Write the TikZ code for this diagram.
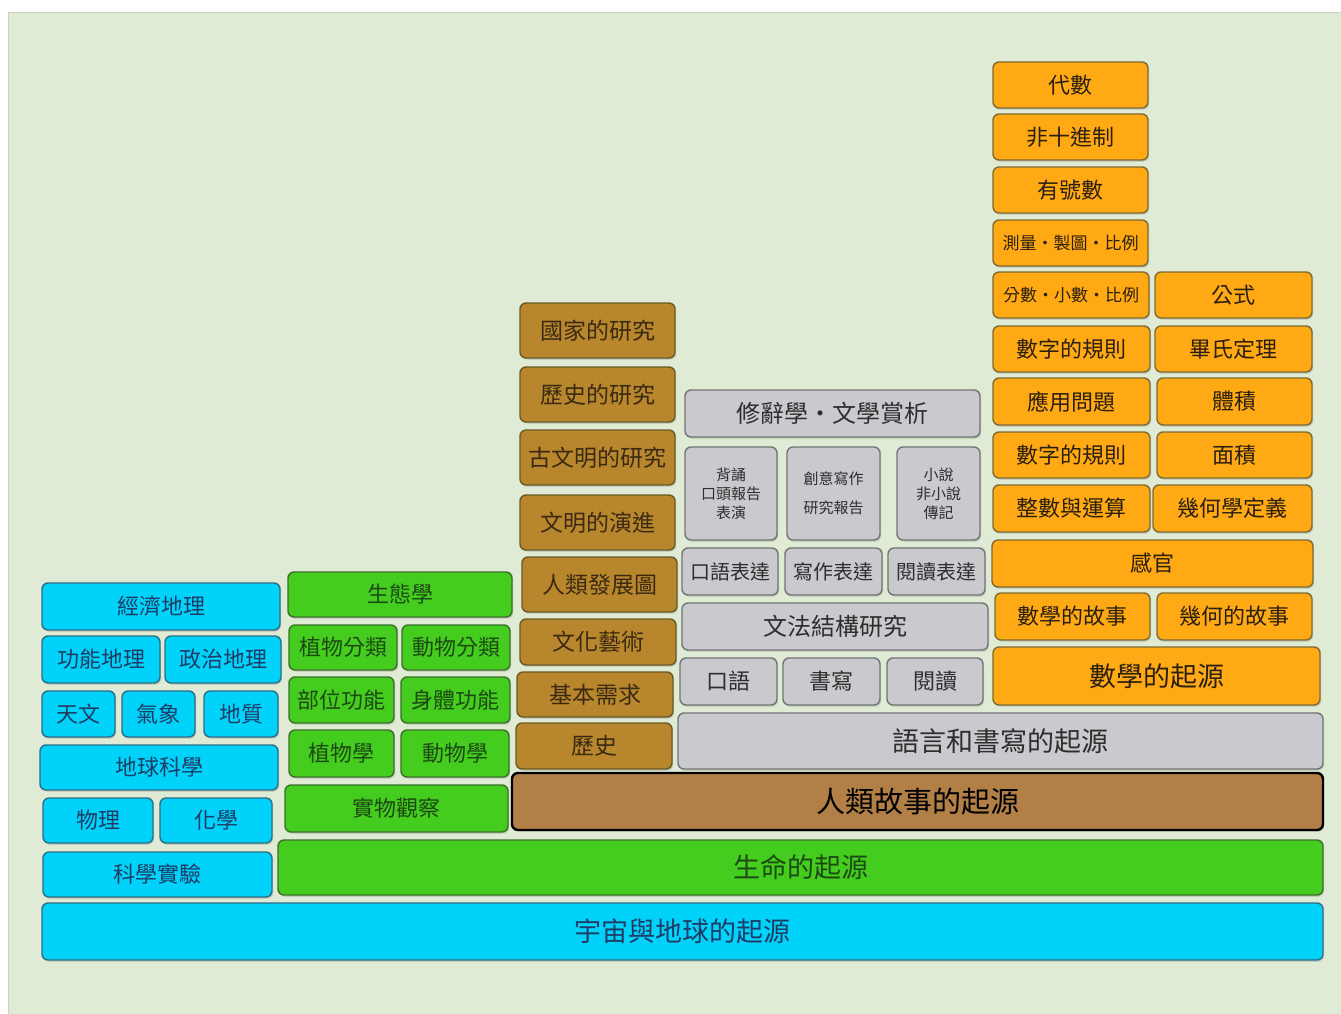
\documentclass[tikz,border=0pt]{standalone}
\usepackage{fontspec}
\setmainfont{Noto Sans CJK TC}
\usetikzlibrary{shadows}
\definecolor{fondo}{HTML}{E0EBD5}
\definecolor{cielo}{HTML}{00D2FA}
\definecolor{cieloborde}{HTML}{2D6E86}
\definecolor{cielotexto}{HTML}{1E3C64}
\definecolor{hoja}{HTML}{44CC1E}
\definecolor{hojaborde}{HTML}{3A7028}
\definecolor{hojatexto}{HTML}{1D4A14}
\definecolor{tierra}{HTML}{B8862C}
\definecolor{tierraborde}{HTML}{6A5A26}
\definecolor{tierratexto}{HTML}{3B2A12}
\definecolor{historia}{HTML}{B27F47}
\definecolor{piedra}{HTML}{C9C9CE}
\definecolor{piedraborde}{HTML}{707474}
\definecolor{piedratexto}{HTML}{2E2E2E}
\definecolor{sol}{HTML}{FFA914}
\definecolor{solborde}{HTML}{7D6A30}
\definecolor{soltexto}{HTML}{2B2010}
\tikzset{
  brick/.style={rounded corners=6pt, line width=1.4pt, inner sep=2pt, align=center,
    font=\fontsize{22}{26}\selectfont,
    drop shadow={shadow xshift=1.2pt, shadow yshift=-1.8pt, opacity=0.25}},
  skybox/.style={brick, fill=cielo, draw=cieloborde, text=cielotexto},
  leafbox/.style={brick, fill=hoja, draw=hojaborde, text=hojatexto},
  earthbox/.style={brick, fill=tierra, draw=tierraborde, text=tierratexto, font=\fontsize{23}{27}\selectfont},
  stonebox/.style={brick, fill=piedra, draw=piedraborde, text=piedratexto},
  sunbox/.style={brick, fill=sol, draw=solborde, text=soltexto},
  bigfont/.style={font=\fontsize{27}{31}\selectfont},
  smallfont/.style={font=\fontsize{15}{19}\selectfont},
}
\begin{document}
\begin{tikzpicture}[x=1pt,y=-1pt]
        \useasboundingbox (0,0) rectangle (1341,1014);
        % Fondo
        \fill[white] (0,0) rectangle (1341,1014);
        \fill[fondo] (8,13) rectangle (1341,1014);
        \draw[gray!40, line width=1pt] (8,1014)--(8,13)--(1341,13);
        % Columna azul
        \node[skybox, minimum width=238, minimum height=47] (econ) at (161,606.5) {經濟地理};
        \node[skybox, minimum width=118, minimum height=47] (func) at (101,659.5) {功能地理};
        \node[skybox, minimum width=116, minimum height=47] (poli) at (223,659.5) {政治地理};
        \node[skybox, minimum width=73, minimum height=46] (astro) at (78.5,714) {天文};
        \node[skybox, minimum width=73, minimum height=46] (weather) at (158.5,714) {氣象};
        \node[skybox, minimum width=74, minimum height=46] (geo) at (241,714) {地質};
        \node[skybox, minimum width=238, minimum height=45] (earth) at (159,767.5) {地球科學};
        \node[skybox, minimum width=110, minimum height=45] (phys) at (98,820.5) {物理};
        \node[skybox, minimum width=112, minimum height=45] (chem) at (216,820.5) {化學};
        \node[skybox, minimum width=229, minimum height=45] (exper) at (157.5,874.5) {科學實驗};
        \node[skybox, bigfont, minimum width=1281, minimum height=57] (universe) at (682.5,931.5) {宇宙與地球的起源};
        % Columna verde
        \node[leafbox, minimum width=224, minimum height=45] (eco) at (400,594.5) {生態學};
        \node[leafbox, minimum width=108, minimum height=45] (plantcls) at (343,647.5) {植物分類};
        \node[leafbox, minimum width=108, minimum height=45] (animalcls) at (456,647.5) {動物分類};
        \node[leafbox, minimum width=105, minimum height=46] (parts) at (341.5,700) {部位功能};
        \node[leafbox, minimum width=109, minimum height=46] (bodyfn) at (455.5,700) {身體功能};
        \node[leafbox, minimum width=105, minimum height=47] (botany) at (341.5,753.5) {植物學};
        \node[leafbox, minimum width=108, minimum height=47] (zoology) at (455,753.5) {動物學};
        \node[leafbox, minimum width=223, minimum height=47] (observe) at (396.5,808.5) {實物觀察};
        \node[leafbox, bigfont, minimum width=1045, minimum height=55] (life) at (800.5,867.5) {生命的起源};
        % Columna marrón
        \node[earthbox, minimum width=155, minimum height=55] (nation) at (597.5,330.5) {國家的研究};
        \node[earthbox, minimum width=155, minimum height=55] (histstudy) at (597.5,394.5) {歷史的研究};
        \node[earthbox, minimum width=155, minimum height=55] (ancient) at (597.5,457.5) {古文明的研究};
        \node[earthbox, minimum width=155, minimum height=55] (civil) at (597.5,522.5) {文明的演進};
        \node[earthbox, minimum width=155, minimum height=55] (humandev) at (599.5,584.5) {人類發展圖};
        \node[earthbox, minimum width=156, minimum height=46] (culture) at (598,642) {文化藝術};
        \node[earthbox, minimum width=156, minimum height=45] (needs) at (595,694.5) {基本需求};
        \node[earthbox, minimum width=156, minimum height=46] (history) at (594,746) {歷史};
        \node[earthbox, fill=historia, draw=black, line width=2.4pt, text=black,
              font=\fontsize{29}{33}\selectfont, minimum width=811, minimum height=57] (story) at (917.5,801.5) {人類故事的起源};
        % Columna gris
        \node[stonebox, font=\fontsize{24}{28}\selectfont, minimum width=295, minimum height=47] (rhetoric) at (832.5,413.5) {修辭學・文學賞析};
        \node[stonebox, smallfont, minimum width=92, minimum height=93] (recite) at (731,493.5) {背誦\\口頭報告\\表演};
        \node[stonebox, smallfont, minimum width=93, minimum height=93] (creative) at (833.5,493.5) {創意寫作\\[10pt]研究報告};
        \node[stonebox, smallfont, minimum width=83, minimum height=93] (novel) at (938.5,493.5) {小說\\非小說\\傳記};
        \node[stonebox, font=\fontsize{20}{24}\selectfont, minimum width=96, minimum height=47] (oralexp) at (730,571.5) {口語表達};
        \node[stonebox, font=\fontsize{20}{24}\selectfont, minimum width=97, minimum height=47] (writeexp) at (833.5,571.5) {寫作表達};
        \node[stonebox, font=\fontsize{20}{24}\selectfont, minimum width=97, minimum height=47] (readexp) at (936.5,571.5) {閱讀表達};
        \node[stonebox, font=\fontsize{24}{28}\selectfont, minimum width=306, minimum height=47] (grammar) at (835,626.5) {文法結構研究};
        \node[stonebox, minimum width=97, minimum height=47] (oral) at (728.5,681.5) {口語};
        \node[stonebox, minimum width=97, minimum height=47] (writing) at (831.5,681.5) {書寫};
        \node[stonebox, minimum width=96, minimum height=47] (reading) at (935,681.5) {閱讀};
        \node[stonebox, bigfont, minimum width=645, minimum height=56] (language) at (1000.5,741) {語言和書寫的起源};
        % Columna naranja
        \node[sunbox, minimum width=155, minimum height=46] (algebra) at (1070.5,85) {代數};
        \node[sunbox, minimum width=155, minimum height=46] (nondec) at (1070.5,137) {非十進制};
        \node[sunbox, minimum width=155, minimum height=46] (signed) at (1070.5,190) {有號數};
        \node[sunbox, font=\fontsize{17}{21}\selectfont, minimum width=155, minimum height=46] (measure) at (1070.5,243) {測量・製圖・比例};
        \node[sunbox, font=\fontsize{17}{21}\selectfont, minimum width=156, minimum height=46] (fraction) at (1071,295) {分數・小數・比例};
        \node[sunbox, minimum width=157, minimum height=46] (formula) at (1233.5,295) {公式};
        \node[sunbox, minimum width=157, minimum height=46] (numrule) at (1071.5,349) {數字的規則};
        \node[sunbox, minimum width=157, minimum height=46] (pythag) at (1233.5,349) {畢氏定理};
        \node[sunbox, minimum width=157, minimum height=47] (wordprob) at (1071.5,401.5) {應用問題};
        \node[sunbox, minimum width=155, minimum height=47] (volume) at (1234.5,401.5) {體積};
        \node[sunbox, minimum width=157, minimum height=46] (numrulebis) at (1071.5,455) {數字的規則};
        \node[sunbox, minimum width=155, minimum height=46] (area) at (1234.5,455) {面積};
        \node[sunbox, minimum width=157, minimum height=47] (integer) at (1071.5,508.5) {整數與運算};
        \node[sunbox, minimum width=159, minimum height=47] (geodef) at (1232.5,508.5) {幾何學定義};
        \node[sunbox, minimum width=321, minimum height=47] (senses) at (1152.5,563.5) {感官};
        \node[sunbox, minimum width=155, minimum height=47] (mathstory) at (1072.5,616.5) {數學的故事};
        \node[sunbox, minimum width=155, minimum height=47] (geostory) at (1234.5,616.5) {幾何的故事};
        \node[sunbox, bigfont, minimum width=327, minimum height=58] (mathorigin) at (1156.5,676) {數學的起源};
    \end{tikzpicture}
\end{document}
